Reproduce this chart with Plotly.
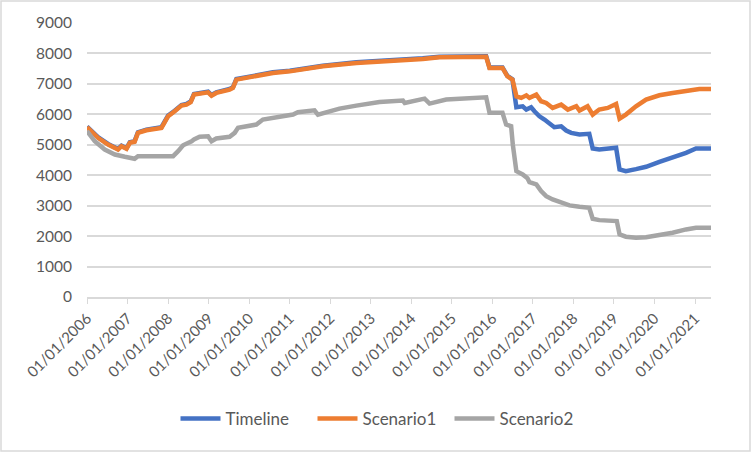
import plotly.graph_objects as go

# ---- Data ----
s1_dates = ["2006-01-01", "2006-04-10", "2006-07-10", "2006-10-08", "2006-11-08", "2006-12-23",
            "2007-01-22", "2007-03-06", "2007-04-05", "2007-06-20", "2007-11-03", "2007-12-02",
            "2008-01-02", "2008-03-01", "2008-05-01", "2008-06-15", "2008-07-23", "2008-08-22",
            "2008-10-12", "2008-12-27", "2009-01-27", "2009-03-11", "2009-07-09", "2009-08-08",
            "2009-09-08", "2009-12-07", "2010-04-05", "2010-08-03", "2011-01-02", "2011-10-27",
            "2012-08-24", "2013-06-18", "2014-04-15", "2014-09-12", "2015-11-07", "2015-12-07",
            "2016-04-02", "2016-05-16", "2016-07-01", "2016-08-06", "2016-09-18", "2016-11-03",
            "2016-12-01", "2017-02-01", "2017-03-16", "2017-05-01", "2017-06-28", "2017-09-13",
            "2017-11-12", "2018-01-27", "2018-02-25", "2018-05-09", "2018-06-24", "2018-08-22",
            "2018-11-06", "2019-01-21", "2019-02-21", "2019-04-19", "2019-07-19", "2019-10-18",
            "2020-02-15", "2020-06-13", "2020-10-12", "2021-02-09", "2021-05-25"]
scenario1 = [5580, 5228, 5008, 4844, 4952, 4867,
             5064, 5100, 5392, 5477, 5556, 5720,
             5937, 6100, 6287, 6320, 6400, 6648,
             6680, 6724, 6615, 6703, 6812, 6867,
             7140, 7196, 7281, 7360, 7412, 7576,
             7688, 7740, 7819, 7872, 7890, 7524,
             7524, 7250, 7140, 6590, 6540, 6625,
             6540, 6648, 6430, 6375, 6210, 6320,
             6156, 6265, 6123, 6265, 5992, 6156,
             6210, 6343, 5861, 5992, 6265, 6484,
             6625, 6703, 6780, 6835, 6835]

tl_dates = ["2006-01-01", "2006-04-10", "2006-07-10", "2006-10-08", "2006-11-08", "2006-12-23",
            "2007-01-22", "2007-03-06", "2007-04-05", "2007-06-20", "2007-11-03", "2007-12-02",
            "2008-01-02", "2008-03-01", "2008-05-01", "2008-06-15", "2008-07-23", "2008-08-22",
            "2008-10-12", "2008-12-27", "2009-01-27", "2009-03-11", "2009-07-09", "2009-08-08",
            "2009-09-08", "2009-12-07", "2010-04-05", "2010-08-03", "2011-01-02", "2011-10-27",
            "2012-08-24", "2013-06-18", "2014-04-15", "2014-09-12", "2015-11-07", "2015-12-07",
            "2016-04-02", "2016-05-16", "2016-07-01", "2016-08-05", "2016-10-01", "2016-11-03",
            "2016-12-16", "2017-01-15", "2017-03-01", "2017-04-15", "2017-05-29", "2017-07-13",
            "2017-09-13", "2017-10-28", "2017-12-12", "2018-02-25", "2018-05-24", "2018-06-24",
            "2018-08-22", "2018-10-22", "2019-01-21", "2019-02-21", "2019-04-19", "2019-07-19",
            "2019-10-18", "2020-02-15", "2020-06-13", "2020-10-12", "2021-01-10", "2021-05-25"]
timeline = [5600, 5248, 5028, 4864, 4972, 4887,
            5084, 5120, 5412, 5497, 5576, 5740,
            5957, 6120, 6307, 6340, 6420, 6668,
            6700, 6744, 6635, 6723, 6832, 6887,
            7160, 7216, 7301, 7380, 7432, 7596,
            7708, 7760, 7839, 7892, 7910, 7540,
            7540, 7265, 7150, 6232, 6265, 6156,
            6232, 6100, 5937, 5828, 5720, 5576,
            5608, 5467, 5392, 5336, 5359, 4877,
            4844, 4877, 4900, 4188, 4133, 4200,
            4277, 4440, 4572, 4736, 4877, 4877]

s2_dates = ["2006-01-01", "2006-03-12", "2006-06-10", "2006-09-09", "2006-12-08", "2007-03-06",
            "2007-04-05", "2008-02-16", "2008-04-01", "2008-05-16", "2008-08-01", "2008-08-22",
            "2008-10-12", "2008-12-27", "2009-01-27", "2009-03-11", "2009-07-09", "2009-08-24",
            "2009-09-23", "2009-12-07", "2010-03-07", "2010-05-05", "2010-10-04", "2011-02-01",
            "2011-03-16", "2011-08-13", "2011-09-13", "2012-03-25", "2012-08-24", "2013-03-21",
            "2013-10-18", "2013-11-03", "2014-05-01", "2014-06-15", "2014-11-12", "2015-07-09",
            "2015-11-07", "2015-12-07", "2016-04-02", "2016-05-05", "2016-06-19", "2016-07-04",
            "2016-08-05", "2016-10-01", "2016-11-13", "2016-12-01", "2017-02-01", "2017-03-16",
            "2017-05-01", "2017-06-28", "2017-09-28", "2017-11-27", "2018-02-25", "2018-05-24",
            "2018-06-24", "2018-08-22", "2019-01-27", "2019-02-21", "2019-04-19", "2019-07-19",
            "2019-10-18", "2020-02-15", "2020-06-13", "2020-10-12", "2021-01-10", "2021-05-25"]
scenario2 = [5450, 5116, 4844, 4680, 4605, 4540,
             4625, 4625, 4789, 4985, 5116, 5172,
             5261, 5281, 5116, 5205, 5261, 5392,
             5556, 5608, 5664, 5828, 5917, 5992,
             6068, 6133, 5992, 6189, 6287, 6408,
             6451, 6375, 6517, 6353, 6484, 6540,
             6560, 6048, 6048, 5664, 5608, 5008,
             4133, 4024, 3900, 3772, 3696, 3477,
             3313, 3204, 3096, 3008, 2965, 2932,
             2571, 2525, 2493, 2056, 1981, 1948,
             1960, 2024, 2112, 2220, 2276, 2276]

year_ticks = [f"{y}-01-01" for y in range(2006, 2022)]
year_labels = [f"01/01/{y}" for y in range(2006, 2022)]

FONT = "Lato, Carlito, Calibri, sans-serif"
GRID = "#d9d9d9"
TXT = "#595959"

fig = go.Figure()
fig.add_trace(go.Scatter(x=tl_dates, y=timeline, name="Timeline", mode="lines",
                         line=dict(color="#4472C4", width=4.5)))
fig.add_trace(go.Scatter(x=s1_dates, y=scenario1, name="Scenario1", mode="lines",
                         line=dict(color="#ED7D31", width=4.5)))
fig.add_trace(go.Scatter(x=s2_dates, y=scenario2, name="Scenario2", mode="lines",
                         line=dict(color="#A5A5A5", width=4.5)))

W, H = 751, 452
L, R, T, B = 87, 40, 23, 155
pw, ph = W - L - R, H - T - B

fig.update_layout(
    width=W, height=H,
    margin=dict(l=L, r=R, t=T, b=B, pad=0),
    paper_bgcolor="white", plot_bgcolor="white",
    font=dict(family=FONT, size=15, color=TXT),
    showlegend=True,
    legend=dict(orientation="h", x=(381 - L) / pw, xanchor="center",
                y=(T + ph - 419) / ph, yanchor="middle",
                font=dict(family=FONT, size=17, color=TXT),
                itemwidth=40, tracegroupgap=0,
                entrywidth=82, entrywidthmode="pixels"),
    xaxis=dict(type="date", range=["2006-01-01", "2021-05-25"],
               tickmode="array", tickvals=year_ticks, ticktext=year_labels,
               tickangle=-45, ticks="outside", ticklen=5, tickcolor=GRID,
               showline=True, linecolor=GRID, linewidth=1.5,
               showgrid=False, zeroline=False,
               tickfont=dict(family=FONT, size=15, color=TXT)),
    yaxis=dict(range=[0, 9000], dtick=1000, tick0=0,
               showgrid=True, gridcolor=GRID, gridwidth=1.5,
               zeroline=False, showline=False, ticks="",
               ticklabelstandoff=14,
               tickfont=dict(family=FONT, size=15.5, color=TXT)),
    shapes=[dict(type="rect", xref="paper", yref="paper",
                 x0=(1 - L) / pw, x1=(W - 1 - L) / pw,
                 y0=-(H - 1 - (T + ph)) / ph, y1=(T + ph - 1) / ph,
                 line=dict(color=GRID, width=1.5), layer="below")],
)

fig.write_html("out.html", config={"displayModeBar": False},
               post_script="document.body.style.margin='0';")
